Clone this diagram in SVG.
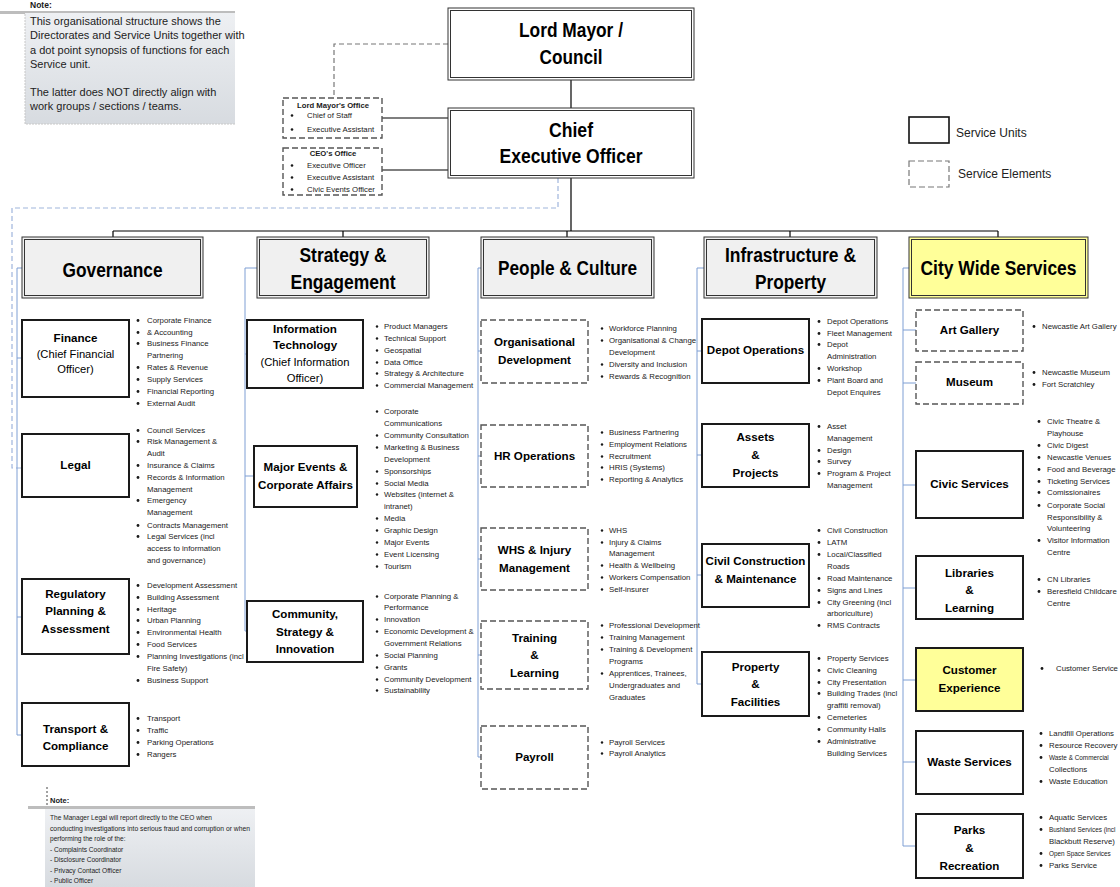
<svg xmlns="http://www.w3.org/2000/svg" width="1120" height="887" viewBox="0 0 1120 887">
<style>
text{font-family:"Liberation Sans",Arial,sans-serif;fill:#1a1a1a}
.hd{font-size:20px;font-weight:bold;text-anchor:middle;fill:#000}
.u{font-size:11.6px;font-weight:bold;text-anchor:middle;fill:#000}
.ur{font-size:11.2px;text-anchor:middle;fill:#000}
.b{font-size:7.8px}
.bs{font-size:6.4px}
.ot{font-size:7.7px;font-weight:bold;text-anchor:middle}
.os{font-size:7.8px}
.nt{font-size:11px;fill:#222}
.nb{font-size:6.6px;fill:#222}
.leg{font-size:12px;fill:#222}
.su{fill:#fff;stroke:#1a1a1a;stroke-width:2}
.se{fill:#fff;stroke:#555;stroke-width:1.4;stroke-dasharray:6 3}
.hbo{fill:#f0f0f0;stroke:#333;stroke-width:1}
.hbi{fill:none;stroke:#333;stroke-width:1}
.blue{fill:none;stroke:#7f9fd4;stroke-width:1}
.blk{fill:none;stroke:#000;stroke-width:1.2}
.dot{fill:#1a1a1a}
</style>
<defs>
<linearGradient id="ng" x1="0" y1="0" x2="0" y2="1">
<stop offset="0" stop-color="#eef0f3"/>
<stop offset="1" stop-color="#d7dbe0"/>
</linearGradient>
</defs>

<!-- Notes -->
<g id="note-top">
<text x="30" y="8" font-size="8.5" font-weight="bold" fill="#222">Note:</text>
<rect x="0" y="11" width="235" height="3" fill="#bdbdbd"/>
<rect x="25" y="13" width="210" height="111" fill="url(#ng)"/>
<path d="M25,14 V124 H235" fill="none" stroke="#c8c8c8" stroke-dasharray="2 1"/>
<text class="nt" x="30" y="24.5">This organisational structure shows the</text>
<text class="nt" x="30" y="39">Directorates and Service Units together with</text>
<text class="nt" x="30" y="54">a dot point synopsis of functions for each</text>
<text class="nt" x="30" y="68">Service unit.</text>
<text class="nt" x="30" y="96">The latter does NOT directly align with</text>
<text class="nt" x="30" y="110">work groups / sections / teams.</text>
</g>

<g id="note-bottom">
<path d="M47,787 V806" fill="none" stroke="#444" stroke-dasharray="2 2"/>
<text x="50" y="803" font-size="7.5" font-weight="bold" fill="#222">Note:</text>
<rect x="28" y="806" width="227" height="3" fill="#bdbdbd"/>
<rect x="45" y="809" width="210" height="78" fill="url(#ng)"/>
<text class="nb" x="50" y="820">The Manager Legal will report directly to the CEO when</text>
<text class="nb" x="50" y="830.5" textLength="200" lengthAdjust="spacingAndGlyphs">conducting investigations into serious fraud and corruption or when</text>
<text class="nb" x="50" y="841">performing the role of the:</text>
<text class="nb" x="50" y="851.5">- Complaints Coordinator</text>
<text class="nb" x="50" y="862">- Disclosure Coordinator</text>
<text class="nb" x="50" y="872.5">- Privacy Contact Officer</text>
<text class="nb" x="50" y="883">- Public Officer</text>
</g>

<!-- Legend -->
<g id="legend">
<rect x="909" y="117" width="40" height="26" fill="#fff" stroke="#111" stroke-width="1.6"/>
<text class="leg" x="956" y="137">Service Units</text>
<rect x="909" y="161" width="40" height="26" fill="#fff" stroke="#777" stroke-width="1.2" stroke-dasharray="6 3"/>
<text class="leg" x="958" y="178">Service Elements</text>
</g>

<!-- Connectors -->
<g id="connectors">
<path class="blk" d="M571,80 V108"/>
<path class="blk" d="M571,178 V231 M113,231 H998 M113,231 V237 M343,231 V237 M567,231 V237 M790,231 V237 M998,231 V237"/>
<path d="M448,44 H334 V98" fill="none" stroke="#777" stroke-width="1.2" stroke-dasharray="5 3"/>
<path class="blk" d="M382,118 H448 M382,170 H448"/>
<path d="M558,178 V208 H12 V468 H22" fill="none" stroke="#9fb5dc" stroke-width="1.2" stroke-dasharray="5 3"/>
<path class="blue" d="M22,268 H17 V735 M17,358 H22 M17,735 H22 M17,617 H22"/>
<path class="blue" d="M257,268 H245 V631 M245,354 H247 M245,476 H254 M245,631 H247"/>
<path class="blue" d="M481,268 H478 V757 M478,351 H481 M478,456 H481 M478,559 H481 M478,655 H481 M478,757 H481"/>
<path class="blue" d="M704,268 H697 V684 M697,351 H702 M697,455 H702 M697,575 H702 M697,684 H702"/>
<path class="blue" d="M909,268 H903 V846 M903,330 H916 M903,383 H916 M903,485 H916 M903,588 H916 M903,680 H916 M903,762 H916 M903,846 H916"/>
</g>

<!-- Top nodes -->
<g id="lord-mayor">
<rect x="448" y="8" width="246" height="72" fill="#fff" stroke="#333"/>
<rect x="450.5" y="10.5" width="241" height="67" class="hbi"/>
<text class="hd" x="571" y="37" textLength="104" lengthAdjust="spacingAndGlyphs">Lord Mayor /</text>
<text class="hd" x="571" y="64" textLength="63" lengthAdjust="spacingAndGlyphs">Council</text>
</g>
<g id="ceo">
<rect x="448" y="108" width="246" height="70" fill="#fff" stroke="#333"/>
<rect x="450.5" y="110.5" width="241" height="65" class="hbi"/>
<text class="hd" x="571" y="137" textLength="44" lengthAdjust="spacingAndGlyphs">Chief</text>
<text class="hd" x="571" y="163" textLength="143" lengthAdjust="spacingAndGlyphs">Executive Officer</text>
</g>
<g id="lord-mayors-office">
<rect x="283" y="98" width="99" height="40" class="se"/>
<text class="ot" x="333" y="108">Lord Mayor's Office</text>
<circle class="dot" cx="292" cy="115.5" r="1.3"/><text class="os" x="307" y="118">Chief of Staff</text>
<circle class="dot" cx="292" cy="129.5" r="1.3"/><text class="os" x="307" y="132">Executive Assistant</text>
</g>
<g id="ceos-office">
<rect x="283" y="148" width="99" height="47" class="se"/>
<text class="ot" x="333" y="156">CEO's Office</text>
<circle class="dot" cx="292" cy="165.5" r="1.3"/><text class="os" x="307" y="168">Executive Officer</text>
<circle class="dot" cx="292" cy="177.5" r="1.3"/><text class="os" x="307" y="180">Executive Assistant</text>
<circle class="dot" cx="292" cy="189.5" r="1.3"/><text class="os" x="307" y="192">Civic Events Officer</text>
</g>

<!-- Directorate headers -->
<g id="governance">
<rect x="22" y="237" width="181" height="61" class="hbo"/>
<rect x="24.5" y="239.5" width="176" height="56" class="hbi"/>
<text class="hd" x="112.5" y="277" textLength="100" lengthAdjust="spacingAndGlyphs">Governance</text>
</g>
<g id="strategy-engagement">
<rect x="257" y="237" width="172" height="61" class="hbo"/>
<rect x="259.5" y="239.5" width="167" height="56" class="hbi"/>
<text class="hd" x="343" y="262" textLength="87" lengthAdjust="spacingAndGlyphs">Strategy &amp;</text>
<text class="hd" x="343" y="289" textLength="105" lengthAdjust="spacingAndGlyphs">Engagement</text>
</g>
<g id="people-culture">
<rect x="481" y="237" width="173" height="61" class="hbo"/>
<rect x="483.5" y="239.5" width="168" height="56" class="hbi"/>
<text class="hd" x="567.5" y="275" textLength="139" lengthAdjust="spacingAndGlyphs">People &amp; Culture</text>
</g>
<g id="infrastructure-property">
<rect x="704" y="237" width="173" height="61" class="hbo"/>
<rect x="706.5" y="239.5" width="168" height="56" class="hbi"/>
<text class="hd" x="790.5" y="262" textLength="131" lengthAdjust="spacingAndGlyphs">Infrastructure &amp;</text>
<text class="hd" x="790.5" y="289" textLength="71" lengthAdjust="spacingAndGlyphs">Property</text>
</g>
<g id="city-wide-services">
<rect x="909" y="237" width="179" height="61" class="hbo" style="fill:#ffff99"/>
<rect x="911.5" y="239.5" width="174" height="56" class="hbi"/>
<text class="hd" x="998.5" y="275" textLength="156" lengthAdjust="spacingAndGlyphs">City Wide Services</text>
</g>

<!-- Governance units -->
<g id="finance">
<rect x="22" y="320" width="107" height="77" class="su"/>
<text class="u" x="75.5" y="342">Finance</text>
<text class="ur" x="75.5" y="358">(Chief Financial</text>
<text class="ur" x="75.5" y="373">Officer)</text>
<g class="b">
<circle class="dot" cx="138" cy="320.5" r="1.4"/><text x="147" y="323">Corporate Finance</text>
<circle class="dot" cx="138" cy="332.5" r="1.4"/><text x="147" y="335">&amp; Accounting</text>
<circle class="dot" cx="138" cy="343.5" r="1.4"/><text x="147" y="346">Business Finance</text>
<text x="147" y="358">Partnering</text>
<circle class="dot" cx="138" cy="367.5" r="1.4"/><text x="147" y="370">Rates &amp; Revenue</text>
<circle class="dot" cx="138" cy="379.5" r="1.4"/><text x="147" y="382">Supply Services</text>
<circle class="dot" cx="138" cy="391.5" r="1.4"/><text x="147" y="394">Financial Reporting</text>
<circle class="dot" cx="138" cy="403.5" r="1.4"/><text x="147" y="406">External Audit</text>
</g>
</g>
<g id="legal">
<rect x="22" y="434" width="107" height="63" class="su"/>
<text class="u" x="75.5" y="469">Legal</text>
<g class="b">
<circle class="dot" cx="138" cy="430.5" r="1.4"/><text x="147" y="433">Council Services</text>
<circle class="dot" cx="138" cy="441.5" r="1.4"/><text x="147" y="444">Risk Management &amp;</text>
<text x="147" y="456">Audit</text>
<circle class="dot" cx="138" cy="465.5" r="1.4"/><text x="147" y="468">Insurance &amp; Claims</text>
<circle class="dot" cx="138" cy="477.5" r="1.4"/><text x="147" y="480">Records &amp; Information</text>
<text x="147" y="492">Management</text>
<circle class="dot" cx="138" cy="500.5" r="1.4"/><text x="147" y="503">Emergency</text>
<text x="147" y="515">Management</text>
<circle class="dot" cx="138" cy="525.5" r="1.4"/><text x="147" y="528">Contracts Management</text>
<circle class="dot" cx="138" cy="536.5" r="1.4"/><text x="147" y="539">Legal Services (incl</text>
<text x="147" y="551">access to information</text>
<text x="147" y="563">and governance)</text>
</g>
</g>
<g id="regulatory">
<rect x="22" y="579" width="107" height="75" class="su"/>
<text class="u" x="75.5" y="598">Regulatory</text>
<text class="u" x="75.5" y="615">Planning &amp;</text>
<text class="u" x="75.5" y="633">Assessment</text>
<g class="b">
<circle class="dot" cx="138" cy="585.5" r="1.4"/><text x="147" y="588">Development Assessment</text>
<circle class="dot" cx="138" cy="597.5" r="1.4"/><text x="147" y="600">Building Assessment</text>
<circle class="dot" cx="138" cy="609.5" r="1.4"/><text x="147" y="612">Heritage</text>
<circle class="dot" cx="138" cy="620.5" r="1.4"/><text x="147" y="623">Urban Planning</text>
<circle class="dot" cx="138" cy="632.5" r="1.4"/><text x="147" y="635">Environmental Health</text>
<circle class="dot" cx="138" cy="644.5" r="1.4"/><text x="147" y="647">Food Services</text>
<circle class="dot" cx="138" cy="656.5" r="1.4"/><text x="147" y="659">Planning Investigations (incl</text>
<text x="147" y="671">Fire Safety)</text>
<circle class="dot" cx="138" cy="680.5" r="1.4"/><text x="147" y="683">Business Support</text>
</g>
</g>
<g id="transport">
<rect x="22" y="703" width="107" height="63" class="su"/>
<text class="u" x="75.5" y="733">Transport &amp;</text>
<text class="u" x="75.5" y="750">Compliance</text>
<g class="b">
<circle class="dot" cx="138" cy="718.5" r="1.4"/><text x="147" y="721">Transport</text>
<circle class="dot" cx="138" cy="730.5" r="1.4"/><text x="147" y="733">Traffic</text>
<circle class="dot" cx="138" cy="742.5" r="1.4"/><text x="147" y="745">Parking Operations</text>
<circle class="dot" cx="138" cy="754.5" r="1.4"/><text x="147" y="757">Rangers</text>
</g>
</g>

<!-- Strategy units -->
<g id="information-technology">
<rect x="247" y="320" width="116" height="68" class="su"/>
<text class="u" x="305" y="333">Information</text>
<text class="u" x="305" y="349">Technology</text>
<text class="ur" x="305" y="366">(Chief Information</text>
<text class="ur" x="305" y="382">Officer)</text>
<g class="b">
<circle class="dot" cx="377" cy="326.5" r="1.2"/><text x="384" y="329">Product Managers</text>
<circle class="dot" cx="377" cy="338.5" r="1.2"/><text x="384" y="341">Technical Support</text>
<circle class="dot" cx="377" cy="350.5" r="1.2"/><text x="384" y="353">Geospatial</text>
<circle class="dot" cx="377" cy="362.5" r="1.2"/><text x="384" y="365">Data Office</text>
<circle class="dot" cx="377" cy="373.5" r="1.2"/><text x="384" y="376">Strategy &amp; Architecture</text>
<circle class="dot" cx="377" cy="385.5" r="1.2"/><text x="384" y="388">Commercial Management</text>
</g>
</g>
<g id="major-events">
<rect x="254" y="446" width="103" height="61" class="su"/>
<text class="u" x="305.5" y="471">Major Events &amp;</text>
<text class="u" x="305.5" y="489">Corporate Affairs</text>
<g class="b">
<circle class="dot" cx="377" cy="411.5" r="1.2"/><text x="384" y="414">Corporate</text>
<text x="384" y="426">Communications</text>
<circle class="dot" cx="377" cy="435.5" r="1.2"/><text x="384" y="438">Community Consultation</text>
<circle class="dot" cx="377" cy="447.5" r="1.2"/><text x="384" y="450">Marketing &amp; Business</text>
<text x="384" y="462">Development</text>
<circle class="dot" cx="377" cy="471.5" r="1.2"/><text x="384" y="474">Sponsorships</text>
<circle class="dot" cx="377" cy="483.5" r="1.2"/><text x="384" y="486">Social Media</text>
<circle class="dot" cx="377" cy="494.5" r="1.2"/><text x="384" y="497">Websites (internet &amp;</text>
<text x="384" y="509">intranet)</text>
<circle class="dot" cx="377" cy="518.5" r="1.2"/><text x="384" y="521">Media</text>
<circle class="dot" cx="377" cy="530.5" r="1.2"/><text x="384" y="533">Graphic Design</text>
<circle class="dot" cx="377" cy="542.5" r="1.2"/><text x="384" y="545">Major Events</text>
<circle class="dot" cx="377" cy="554.5" r="1.2"/><text x="384" y="557">Event Licensing</text>
<circle class="dot" cx="377" cy="566.5" r="1.2"/><text x="384" y="569">Tourism</text>
</g>
</g>
<g id="community-strategy-innovation">
<rect x="247" y="601" width="116" height="61" class="su"/>
<text class="u" x="305" y="618">Community,</text>
<text class="u" x="305" y="636">Strategy &amp;</text>
<text class="u" x="305" y="653">Innovation</text>
<g class="b">
<circle class="dot" cx="377" cy="596.5" r="1.2"/><text x="384" y="599">Corporate Planning &amp;</text>
<text x="384" y="610">Performance</text>
<circle class="dot" cx="377" cy="619.5" r="1.2"/><text x="384" y="622">Innovation</text>
<circle class="dot" cx="377" cy="631.5" r="1.2"/><text x="384" y="634">Economic Development &amp;</text>
<text x="384" y="646">Government Relations</text>
<circle class="dot" cx="377" cy="655.5" r="1.2"/><text x="384" y="658">Social Planning</text>
<circle class="dot" cx="377" cy="667.5" r="1.2"/><text x="384" y="670">Grants</text>
<circle class="dot" cx="377" cy="679.5" r="1.2"/><text x="384" y="682">Community Development</text>
<circle class="dot" cx="377" cy="690.5" r="1.2"/><text x="384" y="693">Sustainability</text>
</g>
</g>

<!-- People & Culture units -->
<g id="organisational-development">
<rect x="481" y="320" width="107" height="63" class="se"/>
<text class="u" x="534.5" y="346">Organisational</text>
<text class="u" x="534.5" y="364">Development</text>
<g class="b">
<circle class="dot" cx="602" cy="328.5" r="1.2"/><text x="609" y="331">Workforce Planning</text>
<circle class="dot" cx="602" cy="340.5" r="1.2"/><text x="609" y="343">Organisational &amp; Change</text>
<text x="609" y="355">Development</text>
<circle class="dot" cx="602" cy="364.5" r="1.2"/><text x="609" y="367">Diversity and Inclusion</text>
<circle class="dot" cx="602" cy="376.5" r="1.2"/><text x="609" y="379">Rewards &amp; Recognition</text>
</g>
</g>
<g id="hr-operations">
<rect x="481" y="425" width="107" height="62" class="se"/>
<text class="u" x="534.5" y="460">HR Operations</text>
<g class="b">
<circle class="dot" cx="602" cy="432.5" r="1.2"/><text x="609" y="435">Business Partnering</text>
<circle class="dot" cx="602" cy="444.5" r="1.2"/><text x="609" y="447">Employment Relations</text>
<circle class="dot" cx="602" cy="456.5" r="1.2"/><text x="609" y="459">Recruitment</text>
<circle class="dot" cx="602" cy="467.5" r="1.2"/><text x="609" y="470">HRIS (Systems)</text>
<circle class="dot" cx="602" cy="479.5" r="1.2"/><text x="609" y="482">Reporting &amp; Analytics</text>
</g>
</g>
<g id="whs-injury-management">
<rect x="481" y="528" width="107" height="62" class="se"/>
<text class="u" x="534.5" y="554">WHS &amp; Injury</text>
<text class="u" x="534.5" y="572">Management</text>
<g class="b">
<circle class="dot" cx="602" cy="530.5" r="1.2"/><text x="609" y="533">WHS</text>
<circle class="dot" cx="602" cy="542.5" r="1.2"/><text x="609" y="545">Injury &amp; Claims</text>
<text x="609" y="556">Management</text>
<circle class="dot" cx="602" cy="565.5" r="1.2"/><text x="609" y="568">Health &amp; Wellbeing</text>
<circle class="dot" cx="602" cy="577.5" r="1.2"/><text x="609" y="580">Workers Compensation</text>
<circle class="dot" cx="602" cy="589.5" r="1.2"/><text x="609" y="592">Self-insurer</text>
</g>
</g>
<g id="training-learning">
<rect x="481" y="621" width="107" height="68" class="se"/>
<text class="u" x="534.5" y="642">Training</text>
<text class="u" x="534.5" y="659">&amp;</text>
<text class="u" x="534.5" y="677">Learning</text>
<g class="b">
<circle class="dot" cx="602" cy="625.5" r="1.2"/><text x="609" y="628">Professional Development</text>
<circle class="dot" cx="602" cy="637.5" r="1.2"/><text x="609" y="640">Training Management</text>
<circle class="dot" cx="602" cy="649.5" r="1.2"/><text x="609" y="652">Training &amp; Development</text>
<text x="609" y="664">Programs</text>
<circle class="dot" cx="602" cy="673.5" r="1.2"/><text x="609" y="676">Apprentices, Trainees,</text>
<text x="609" y="688">Undergraduates and</text>
<text x="609" y="700">Graduates</text>
</g>
</g>
<g id="payroll">
<rect x="481" y="726" width="107" height="63" class="se"/>
<text class="u" x="534.5" y="761">Payroll</text>
<g class="b">
<circle class="dot" cx="602" cy="742.5" r="1.2"/><text x="609" y="745">Payroll Services</text>
<circle class="dot" cx="602" cy="753.5" r="1.2"/><text x="609" y="756">Payroll Analytics</text>
</g>
</g>

<!-- Infrastructure units -->
<g id="depot-operations">
<rect x="702" y="319" width="107" height="64" class="su"/>
<text class="u" x="755.5" y="354">Depot Operations</text>
<g class="b">
<circle class="dot" cx="819" cy="321.5" r="1.4"/><text x="827" y="324">Depot Operations</text>
<circle class="dot" cx="819" cy="333.5" r="1.4"/><text x="827" y="336">Fleet Management</text>
<circle class="dot" cx="819" cy="344.5" r="1.4"/><text x="827" y="347">Depot</text>
<text x="827" y="359">Administration</text>
<circle class="dot" cx="819" cy="368.5" r="1.4"/><text x="827" y="371">Workshop</text>
<circle class="dot" cx="819" cy="380.5" r="1.4"/><text x="827" y="383">Plant Board and</text>
<text x="827" y="395">Depot Enquires</text>
</g>
</g>
<g id="assets-projects">
<rect x="702" y="424" width="107" height="63" class="su"/>
<text class="u" x="755.5" y="441">Assets</text>
<text class="u" x="755.5" y="459">&amp;</text>
<text class="u" x="755.5" y="477">Projects</text>
<g class="b">
<circle class="dot" cx="819" cy="426.5" r="1.4"/><text x="827" y="429">Asset</text>
<text x="827" y="441">Management</text>
<circle class="dot" cx="819" cy="450.5" r="1.4"/><text x="827" y="453">Design</text>
<circle class="dot" cx="819" cy="461.5" r="1.4"/><text x="827" y="464">Survey</text>
<circle class="dot" cx="819" cy="473.5" r="1.4"/><text x="827" y="476">Program &amp; Project</text>
<text x="827" y="488">Management</text>
</g>
</g>
<g id="civil-construction">
<rect x="702" y="544" width="107" height="63" class="su"/>
<text class="u" x="755.5" y="565">Civil Construction</text>
<text class="u" x="755.5" y="583">&amp; Maintenance</text>
<g class="b">
<circle class="dot" cx="819" cy="530.5" r="1.4"/><text x="827" y="533">Civil Construction</text>
<circle class="dot" cx="819" cy="542.5" r="1.4"/><text x="827" y="545">LATM</text>
<circle class="dot" cx="819" cy="554.5" r="1.4"/><text x="827" y="557">Local/Classified</text>
<text x="827" y="569">Roads</text>
<circle class="dot" cx="819" cy="578.5" r="1.4"/><text x="827" y="581">Road Maintenance</text>
<circle class="dot" cx="819" cy="590.5" r="1.4"/><text x="827" y="593">Signs and Lines</text>
<circle class="dot" cx="819" cy="602.5" r="1.4"/><text x="827" y="605">City Greening (incl</text>
<text x="827" y="616">arboriculture)</text>
<circle class="dot" cx="819" cy="625.5" r="1.4"/><text x="827" y="628">RMS Contracts</text>
</g>
</g>
<g id="property-facilities">
<rect x="702" y="652" width="107" height="64" class="su"/>
<text class="u" x="755.5" y="671">Property</text>
<text class="u" x="755.5" y="688">&amp;</text>
<text class="u" x="755.5" y="706">Facilities</text>
<g class="b">
<circle class="dot" cx="819" cy="658.5" r="1.4"/><text x="827" y="661">Property Services</text>
<circle class="dot" cx="819" cy="670.5" r="1.4"/><text x="827" y="673">Civic Cleaning</text>
<circle class="dot" cx="819" cy="682.5" r="1.4"/><text x="827" y="685">City Presentation</text>
<circle class="dot" cx="819" cy="693.5" r="1.4"/><text x="827" y="696">Building Trades (incl</text>
<text x="827" y="708">graffiti removal)</text>
<circle class="dot" cx="819" cy="717.5" r="1.4"/><text x="827" y="720">Cemeteries</text>
<circle class="dot" cx="819" cy="729.5" r="1.4"/><text x="827" y="732">Community Halls</text>
<circle class="dot" cx="819" cy="741.5" r="1.4"/><text x="827" y="744">Administrative</text>
<text x="827" y="756">Building Services</text>
</g>
</g>

<!-- City Wide units -->
<g id="art-gallery">
<rect x="916" y="310" width="107" height="41" class="se"/>
<text class="u" x="969.5" y="334">Art Gallery</text>
<g class="b">
<circle class="dot" cx="1034" cy="326.5" r="1.4"/><text x="1042" y="329">Newcastle Art Gallery</text>
</g>
</g>
<g id="museum">
<rect x="916" y="362" width="107" height="42" class="se"/>
<text class="u" x="969.5" y="386">Museum</text>
<g class="b">
<circle class="dot" cx="1034" cy="372.5" r="1.4"/><text x="1042" y="375">Newcastle Museum</text>
<circle class="dot" cx="1034" cy="384.5" r="1.4"/><text x="1042" y="387">Fort Scratchley</text>
</g>
</g>
<g id="civic-services">
<rect x="916" y="451" width="107" height="67" class="su"/>
<text class="u" x="969.5" y="488">Civic Services</text>
<g class="b">
<circle class="dot" cx="1039" cy="421.5" r="1.4"/><text x="1047" y="424">Civic Theatre &amp;</text>
<text x="1047" y="436">Playhouse</text>
<circle class="dot" cx="1039" cy="445.5" r="1.4"/><text x="1047" y="448">Civic Digest</text>
<circle class="dot" cx="1039" cy="457.5" r="1.4"/><text x="1047" y="460">Newcastle Venues</text>
<circle class="dot" cx="1039" cy="469.5" r="1.4"/><text x="1047" y="472">Food and Beverage</text>
<circle class="dot" cx="1039" cy="481.5" r="1.4"/><text x="1047" y="484">Ticketing Services</text>
<circle class="dot" cx="1039" cy="492.5" r="1.4"/><text x="1047" y="495">Comissionaires</text>
<circle class="dot" cx="1039" cy="505.5" r="1.4"/><text x="1047" y="508">Corporate Social</text>
<text x="1047" y="520">Responsibility &amp;</text>
<text x="1047" y="531">Volunteering</text>
<circle class="dot" cx="1039" cy="540.5" r="1.4"/><text x="1047" y="543">Visitor Information</text>
<text x="1047" y="555">Centre</text>
</g>
</g>
<g id="libraries-learning">
<rect x="916" y="556" width="107" height="63" class="su"/>
<text class="u" x="969.5" y="577">Libraries</text>
<text class="u" x="969.5" y="594">&amp;</text>
<text class="u" x="969.5" y="612">Learning</text>
<g class="b">
<circle class="dot" cx="1039" cy="579.5" r="1.4"/><text x="1047" y="582">CN Libraries</text>
<circle class="dot" cx="1039" cy="591.5" r="1.4"/><text x="1047" y="594">Beresfield Childcare</text>
<text x="1047" y="606">Centre</text>
</g>
</g>
<g id="customer-experience">
<rect x="916" y="648" width="107" height="63" class="su" style="fill:#ffff99"/>
<text class="u" x="969.5" y="674">Customer</text>
<text class="u" x="969.5" y="692">Experience</text>
<g class="b">
<circle class="dot" cx="1042" cy="668.5" r="1.4"/><text x="1056" y="671">Customer Service</text>
</g>
</g>
<g id="waste-services">
<rect x="916" y="731" width="107" height="63" class="su"/>
<text class="u" x="969.5" y="766">Waste Services</text>
<g class="b">
<circle class="dot" cx="1041" cy="733.5" r="1.4"/><text x="1049" y="736">Landfill Operations</text>
<circle class="dot" cx="1041" cy="745.5" r="1.4"/><text x="1049" y="748">Resource Recovery</text>
<circle class="dot" cx="1041" cy="757.5" r="1.4"/><text class="bs" x="1049" y="760">Waste &amp; Commercial</text>
<text x="1049" y="772">Collections</text>
<circle class="dot" cx="1041" cy="781.5" r="1.4"/><text x="1049" y="784">Waste Education</text>
</g>
</g>
<g id="parks-recreation">
<rect x="916" y="814" width="107" height="64" class="su"/>
<text class="u" x="969.5" y="834">Parks</text>
<text class="u" x="969.5" y="852">&amp;</text>
<text class="u" x="969.5" y="870">Recreation</text>
<g class="b">
<circle class="dot" cx="1041" cy="817.5" r="1.4"/><text x="1049" y="820">Aquatic Services</text>
<circle class="dot" cx="1041" cy="829.5" r="1.4"/><text class="bs" x="1049" y="832">Bushland Services (incl</text>
<text x="1049" y="844">Blackbutt Reserve)</text>
<circle class="dot" cx="1041" cy="853.5" r="1.4"/><text class="bs" x="1049" y="856">Open Space Services</text>
<circle class="dot" cx="1041" cy="865.5" r="1.4"/><text x="1049" y="868">Parks Service</text>
</g>
</g>
</svg>
